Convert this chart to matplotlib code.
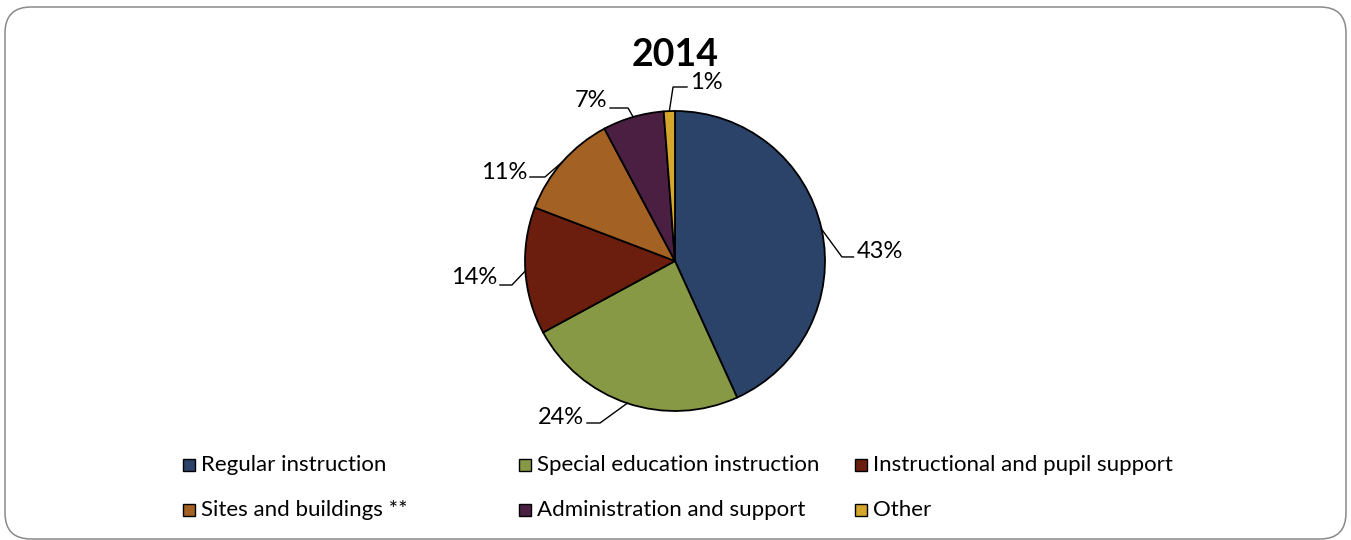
import matplotlib
matplotlib.use("Agg")
import matplotlib.pyplot as plt
from matplotlib.patches import FancyBboxPatch, Rectangle
import numpy as np

plt.rcParams["font.family"] = ["Lato", "DejaVu Sans"]

# Spending shares for 2014 (percent)
title = "2014"
categories = [
    "Regular instruction",
    "Special education instruction",
    "Instructional and pupil support",
    "Sites and buildings **",
    "Administration and support",
    "Other",
]
shares = [43.2, 23.9, 13.7, 11.4, 6.6, 1.2]
colors = ["#2B4269", "#879945", "#6B1E0E", "#A46124", "#4A1F42", "#D4A72C"]

# Label layout (pie-radius units): elbow of the leader line, end of its
# horizontal run, vertical centre of the text, and text side
label_layout = [
    ((1.113, 0.027), 1.19, 0.065, "left"),
    ((-0.50, -1.08), -0.587, -1.04, "right"),
    ((-1.087, -0.16), -1.167, -0.113, "right"),
    ((-0.867, 0.56), -0.967, 0.593, "right"),
    ((-0.313, 1.02), -0.433, 1.067, "right"),
    ((-0.013, 1.16), 0.08, 1.193, "left"),
]

W, H, DPI = 1351, 540, 100
fig = plt.figure(figsize=(W / DPI, H / DPI), dpi=DPI)

# Rounded chart-area border
border = FancyBboxPatch((0.05, 0.01), 13.41, 5.32,
                        boxstyle="round,pad=0,rounding_size=0.26",
                        transform=fig.dpi_scale_trans, facecolor="none",
                        edgecolor="#8A8A8A", linewidth=1.1, zorder=-1)
fig.patches.append(border)

# Pie axes: 150 px per unit, centred on the pie
cx, cy, R = 675, 261, 150
ax = fig.add_axes([(cx - 300) / W, (H - cy - 240) / H, 600 / W, 480 / H])
ax.set_axis_off()

wedges, _ = ax.pie(shares, colors=colors, startangle=90, counterclock=False,
                   radius=1.0,
                   wedgeprops=dict(edgecolor="black", linewidth=1.3))
ax.set_xlim(-2, 2)
ax.set_ylim(-1.6, 1.6)
ax.set_aspect("equal")

total = sum(shares)
cum = 0.0
for val, (elbow, hend, ty, side) in zip(shares, label_layout):
    mid = (cum + val / 2) / total * 360.0
    cum += val
    ang = np.deg2rad(90 - mid)
    ex, ey = np.cos(ang), np.sin(ang)
    ax.plot([ex, elbow[0], hend], [ey, elbow[1], elbow[1]],
            color="black", linewidth=1.0, clip_on=False, zorder=3)
    offset = 0.02 if side == "left" else -0.02
    ax.text(hend + offset, ty, f"{val:.0f}%", ha=side,
            va="center", fontsize=17, color="black", clip_on=False)

fig.text(cx / W, 1 - 55 / H, title, ha="center", va="center",
         fontsize=27, fontweight="bold")

# Legend, three columns by two rows
col_x = [183, 519, 855]
row_y = [465, 510]
for i, (name, col) in enumerate(zip(categories, colors)):
    x = col_x[i % 3]
    y = row_y[i // 3]
    fig.patches.append(Rectangle(((x) / W, (H - y - 6) / H), 12 / W, 12 / H,
                                 transform=fig.transFigure, facecolor=col,
                                 edgecolor="black", linewidth=1.0))
    fig.text((x + 18) / W, (H - y) / H, name, ha="left", va="center",
             fontsize=16, color="black")

fig.savefig("out.png", dpi=DPI)
